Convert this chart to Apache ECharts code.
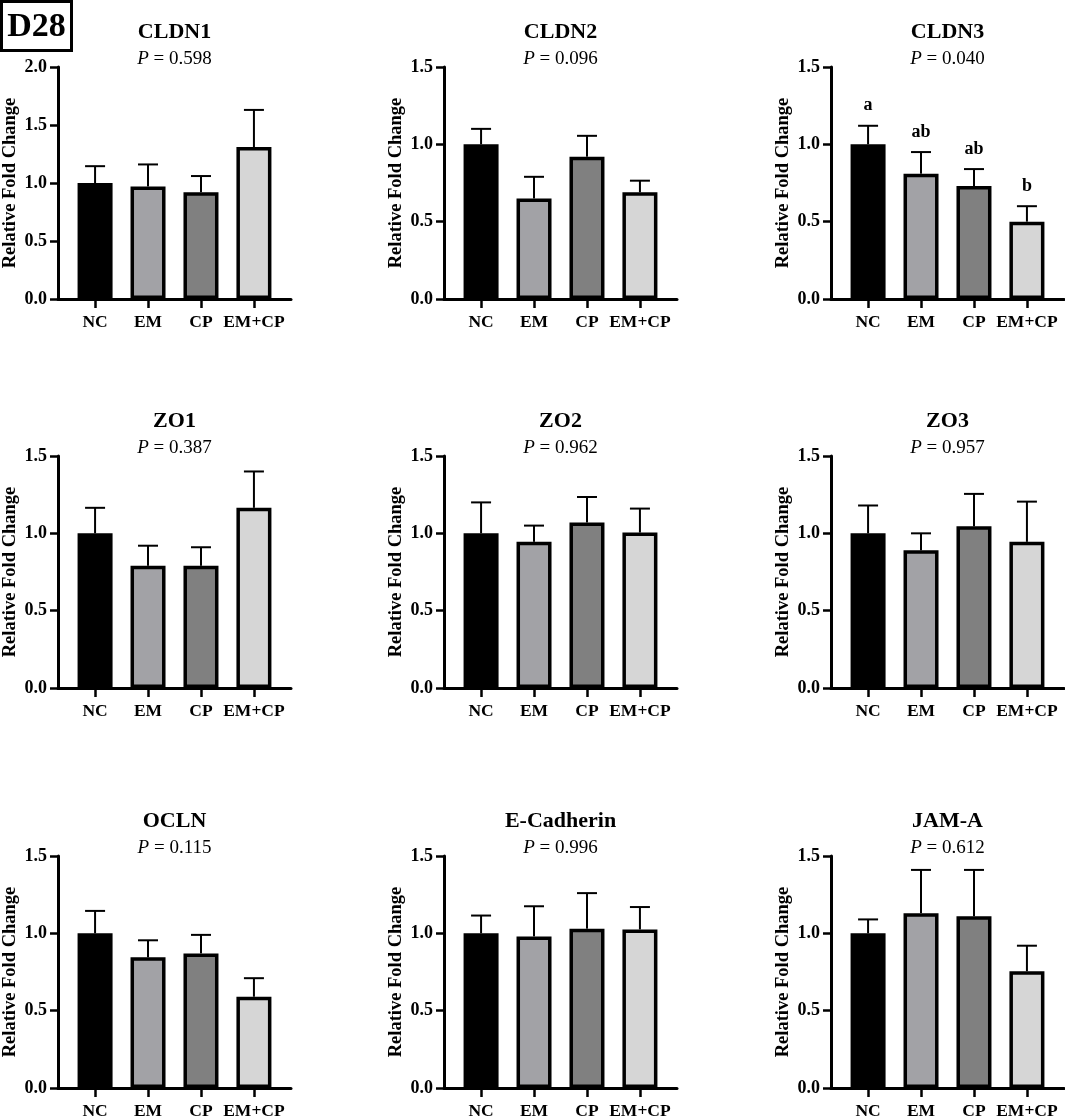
<!DOCTYPE html>
<html><head><meta charset="utf-8">
<script src="https://cdn.jsdelivr.net/npm/echarts@6/dist/echarts.min.js"></script>
<style>html,body{margin:0;padding:0;background:#fff}#c{width:1065px;height:1118px}</style>
</head><body><div id="c"></div>
<script>
const groups = ['NC', 'EM', 'CP', 'EM+CP'];
const groupColors = ['#000000', '#a2a2a6', '#808080', '#d6d6d6'];
const genes = ['CLDN1', 'CLDN2', 'CLDN3', 'ZO1', 'ZO2', 'ZO3', 'OCLN', 'E-Cadherin', 'JAM-A'];
const pValues = ['0.598', '0.096', '0.040', '0.387', '0.962', '0.957', '0.115', '0.996', '0.612'];
const yMaxes = [2.0, 1.5, 1.5, 1.5, 1.5, 1.5, 1.5, 1.5, 1.5];
const yTickStep = 0.5;

// means and SEM (upper error) per gene, order NC, EM, CP, EM+CP
const meanCLDN1 = [1.00, 0.97, 0.92, 1.31];   const semCLDN1 = [0.145, 0.19, 0.14, 0.32];
const meanCLDN2 = [1.00, 0.65, 0.92, 0.69];   const semCLDN2 = [0.10, 0.14, 0.135, 0.075];
const meanCLDN3 = [1.00, 0.81, 0.73, 0.50];   const semCLDN3 = [0.12, 0.14, 0.11, 0.10];
const meanZO1 = [1.00, 0.79, 0.79, 1.165];    const semZO1 = [0.165, 0.13, 0.12, 0.235];
const meanZO2 = [1.00, 0.945, 1.07, 1.005];   const semZO2 = [0.20, 0.105, 0.165, 0.155];
const meanZO3 = [1.00, 0.89, 1.045, 0.945];   const semZO3 = [0.18, 0.11, 0.21, 0.26];
const meanOCLN = [1.00, 0.845, 0.87, 0.59];   const semOCLN = [0.145, 0.11, 0.12, 0.12];
const meanECad = [1.00, 0.98, 1.03, 1.025];   const semECad = [0.115, 0.195, 0.23, 0.145];
const meanJAMA = [1.00, 1.13, 1.11, 0.755];   const semJAMA = [0.09, 0.28, 0.30, 0.165];
const lettersCLDN3 = ['a', 'ab', 'ab', 'b'];

const means = [meanCLDN1, meanCLDN2, meanCLDN3, meanZO1, meanZO2, meanZO3, meanOCLN, meanECad, meanJAMA];
const sems = [semCLDN1, semCLDN2, semCLDN3, semZO1, semZO2, semZO3, semOCLN, semECad, semJAMA];
const letters = [null, null, lettersCLDN3, null, null, null, null, null, null];

const FONT = '"Liberation Serif", "Times New Roman", serif';
const colLefts = [58, 444, 831];
const rowTops = [67, 456, 856];
const GW = 233, GH = 232;

const grid = [], xAxis = [], yAxis = [], series = [], graphic = [];

graphic.push({type: 'rect', shape: {x: 1.5, y: 1.5, width: 70, height: 49},
  style: {fill: '#fff', stroke: '#000', lineWidth: 3}});
graphic.push({type: 'text', x: 36.5, y: 27, style: {text: 'D28', fill: '#000',
  font: 'bold 34px ' + FONT, align: 'center', verticalAlign: 'middle'}});

genes.forEach((gene, i) => {
  const col = i % 3, row = Math.floor(i / 3);
  const left = colLefts[col], top = rowTops[row];
  grid.push({left: left, top: top, width: GW, height: GH, containLabel: false, outerBoundsMode: 'none'});
  xAxis.push({
    type: 'value', gridIndex: i, min: -0.7, max: 3.7,
    splitLine: {show: false},
    axisLine: {show: true, onZero: false, lineStyle: {color: '#000', width: 3}},
    axisTick: {show: true, customValues: [0, 1, 2, 3], length: 9, lineStyle: {color: '#000', width: 2.5}},
    axisLabel: {show: true, customValues: [0, 1, 2, 3], formatter: v => groups[Math.round(v)],
      color: '#000', fontFamily: FONT, fontWeight: 'bold', fontSize: 17.5, margin: 14}
  });
  yAxis.push({
    type: 'value', gridIndex: i, min: 0, max: yMaxes[i], interval: yTickStep,
    splitLine: {show: false},
    axisLine: {show: true, onZero: false, lineStyle: {color: '#000', width: 3}},
    axisTick: {show: true, length: 8, lineStyle: {color: '#000', width: 2.5}},
    axisLabel: {formatter: v => v.toFixed(1), color: '#000', fontFamily: FONT,
      fontWeight: 'bold', fontSize: 18, margin: 11},
    name: 'Relative Fold Change', nameLocation: 'middle', nameGap: 38,
    nameTextStyle: {color: '#000', fontFamily: FONT, fontWeight: 'bold', fontSize: 18.5}
  });
  series.push({
    type: 'bar', xAxisIndex: i, yAxisIndex: i, barWidth: 35,
    data: means[i].map((m, k) => ({value: [k, m],
      itemStyle: {color: groupColors[k], borderColor: '#000', borderWidth: 3.5}})),
    silent: true, animation: false
  });
  const lt = letters[i];
  series.push({
    type: 'custom', xAxisIndex: i, yAxisIndex: i, animation: false, silent: true, z: 3,
    data: means[i].map((m, k) => [k, m, sems[i][k]]),
    renderItem: (params, api) => {
      const x = api.value(0), m = api.value(1), e = api.value(2);
      const p0 = api.coord([x, m]), p1 = api.coord([x, m + e]);
      const children = [
        {type: 'line', shape: {x1: p0[0], y1: p0[1], x2: p1[0], y2: p1[1]}, style: {stroke: '#000', lineWidth: 2}},
        {type: 'line', shape: {x1: p1[0] - 10, y1: p1[1], x2: p1[0] + 10, y2: p1[1]}, style: {stroke: '#000', lineWidth: 2}}
      ];
      if (lt) {
        children.push({type: 'text', x: p1[0], y: p1[1] - 20, style: {text: lt[params.dataIndex],
          fill: '#000', font: 'bold 18px ' + FONT, align: 'center', verticalAlign: 'middle'}});
      }
      return {type: 'group', children: children};
    }
  });
  const cx = left + GW / 2;
  graphic.push({type: 'text', x: cx, y: top - 35, style: {text: gene, fill: '#000',
    font: 'bold 22px ' + FONT, align: 'center', verticalAlign: 'middle'}});
  graphic.push({type: 'text', x: cx, y: top - 8, style: {
    text: '{i|P}{r| = ' + pValues[i] + '}',
    rich: {
      i: {fontStyle: 'italic', fontSize: 19, fontFamily: FONT, fill: '#000'},
      r: {fontSize: 19, fontFamily: FONT, fill: '#000'}
    },
    fill: '#000', align: 'center', verticalAlign: 'middle'}});
});

const chart = echarts.init(document.getElementById('c'), null, {renderer: 'canvas'});
chart.setOption({backgroundColor: '#fff', animation: false, grid, xAxis, yAxis, series, graphic});
</script>
</body></html>
